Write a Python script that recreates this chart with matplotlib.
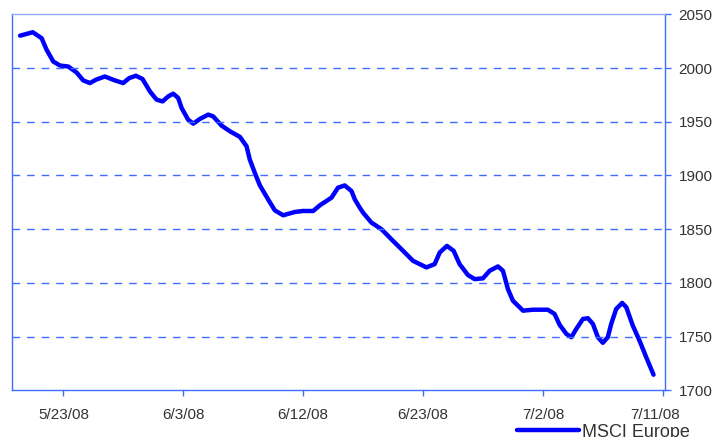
import matplotlib
matplotlib.use("Agg")
import matplotlib.pyplot as plt
import matplotlib.transforms as mtransforms

# trading-day index (0 = 5/20/08) and index level
days = [0.47, 1.21, 1.73, 2.02, 2.41, 2.80, 3.28, 3.77, 4.16, 4.55,
        4.90, 5.42, 6.01, 6.49, 6.84, 7.23, 7.62, 8.05, 8.44, 8.79,
        9.12, 9.41, 9.70, 9.90, 10.28, 10.58, 10.97, 11.45, 11.74, 12.23,
        12.72, 13.30, 13.69, 13.88, 14.17, 14.47, 14.95, 15.34, 15.83, 16.51,
        16.99, 17.58, 17.97, 18.65, 19.03, 19.42, 19.82, 20.01, 20.30, 20.49,
        20.98, 21.57, 22.24, 22.83, 23.41, 24.19, 24.67, 24.97, 25.39, 25.78,
        26.13, 26.62, 27.01, 27.49, 27.88, 28.37, 28.66, 28.95, 29.24, 29.63,
        29.83, 30.41, 31.28, 31.67, 31.97, 32.36, 32.65, 32.94, 33.33, 33.62,
        33.91, 34.20, 34.49, 34.78, 34.98, 35.27, 35.62, 35.86, 36.24, 36.63,
        37.02, 37.45]
msci = [2030.1, 2033.3, 2027.7, 2016.9, 2006.0, 2002.3, 2001.4, 1995.8, 1988.4, 1986.0,
        1989.1, 1992.1, 1988.4, 1986.0, 1990.6, 1992.8, 1989.7, 1978.2, 1970.5, 1968.9,
        1973.6, 1976.1, 1972.1, 1962.8, 1951.9, 1948.2, 1952.6, 1956.6, 1955.0, 1946.4,
        1941.1, 1935.9, 1927.2, 1914.8, 1902.5, 1890.7, 1877.7, 1867.5, 1862.9, 1866.0,
        1866.9, 1866.9, 1872.2, 1879.3, 1888.6, 1890.7, 1885.4, 1877.7, 1870.0, 1865.4,
        1856.1, 1849.9, 1839.1, 1829.8, 1820.5, 1814.4, 1817.4, 1828.3, 1834.4, 1829.8,
        1817.4, 1807.2, 1803.5, 1804.2, 1811.2, 1815.3, 1811.2, 1794.2, 1783.4, 1777.3,
        1774.1, 1775.0, 1775.0, 1771.1, 1760.9, 1752.5, 1749.4, 1757.1, 1766.4, 1767.1,
        1761.8, 1749.4, 1744.2, 1749.4, 1761.8, 1775.7, 1781.3, 1777.3, 1760.2, 1746.3,
        1730.9, 1714.5]

tick_pos = [3, 10, 17, 24, 31, 38]
tick_labels = ['5/23/08', '6/3/08', '6/12/08', '6/23/08', '7/2/08', '7/11/08']
y_ticks = [1700, 1750, 1800, 1850, 1900, 1950, 2000, 2050]

axis_blue = '#3F6BFF'
txt = '#333333'
plt.rcParams['font.family'] = ['Liberation Sans', 'DejaVu Sans']

fig = plt.figure(figsize=(7.16, 4.37), dpi=100)
ax = fig.add_axes([0.0168, 0.1069, 0.9115, 0.8604])

ax.plot(days, msci, color='#0000FF', lw=3.2, solid_capstyle='round',
        solid_joinstyle='round', label='MSCI Europe')

ax.set_xlim(0, 38.1)
ax.set_ylim(1700, 2050)
ax.set_xticks(tick_pos)
ax.set_xticklabels(tick_labels)
ax.set_yticks(y_ticks)
ax.yaxis.tick_right()

for s in ax.spines.values():
    s.set_color(axis_blue)
    s.set_linewidth(1.0)
ax.spines['top'].set_color('#8FAAFF')

ax.tick_params(axis='y', direction='out', length=4, width=1, color=axis_blue,
               labelsize=11, labelcolor=txt, pad=6)
ax.tick_params(axis='x', direction='out', length=4, width=1, color=axis_blue,
               labelsize=11, labelcolor=txt, pad=9)

# last date label sits a little left of its tick, as in the original
last = ax.get_xticklabels()[-1]
last.set_transform(last.get_transform() +
                   mtransforms.ScaledTranslation(-8 / 100, 0, fig.dpi_scale_trans))

for v in y_ticks[1:-1]:
    ax.axhline(v, color=axis_blue, lw=1.0, dashes=(5.5, 5))

fig.legend(loc='center left', bbox_to_anchor=(0.700, 0.011), frameon=False,
           fontsize=13, handlelength=3.4, handletextpad=0.2,
           labelcolor=txt)

fig.savefig('out.png', dpi=100)
